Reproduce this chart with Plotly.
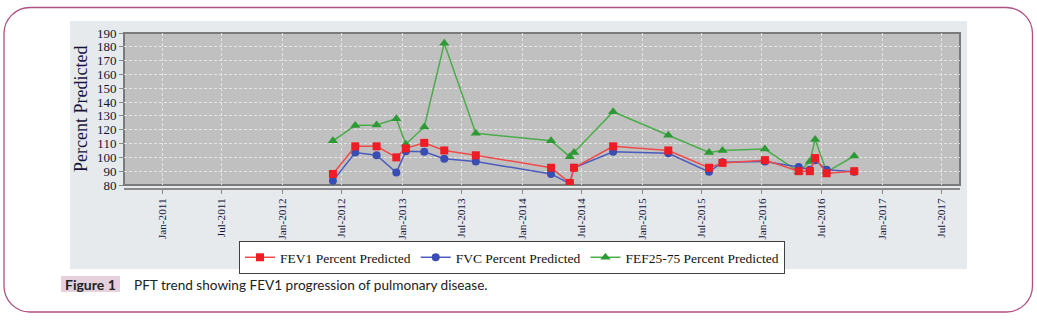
import plotly.graph_objects as go

# ---------------- data ----------------
dates = ["2012-06-04", "2012-08-11", "2012-10-15", "2012-12-14", "2013-01-12",
         "2013-03-09", "2013-05-09", "2013-08-13", "2014-03-30", "2014-05-26",
         "2014-06-08", "2014-10-05", "2015-03-22", "2015-07-24", "2015-09-03",
         "2016-01-10", "2016-04-22", "2016-05-26", "2016-06-11", "2016-07-16",
         "2016-10-08"]
fev1 = [88, 108, 108, 100, 106.5, 110.5, 105, 101.5, 92.5, 81.5, 92.5, 108,
        105, 92.5, 96, 98, 90, 90, 99.5, 88.5, 90]
fvc = [83, 103.5, 101.5, 89, 104.5, 104, 99, 97, 88, 81, 92.5, 104, 103,
       89.5, 96.5, 97, 93, 91, 98, 91, 89.5]
fef = [112, 123, 123.5, 128, 109.5, 122, 182.5, 117.5, 112, 100.5, 103.5, 133,
       116, 103.5, 105, 106, 89.5, 97, 113, 89.5, 101]
y_ticks = [80, 90, 100, 110, 120, 130, 140, 150, 160, 170, 180, 190]
series_names = ["FEV1 Percent Predicted", "FVC Percent Predicted", "FEF25-75 Percent Predicted"]
y_title = "Percent Predicted"
caption_label = "Figure 1"
caption_text = "PFT trend showing FEV1 progression of pulmonary disease."

# ---------------- layout geometry (pixels) ----------------
W, H = 1037, 322
L, R, T, B = 124, 77, 33, 133          # plot area incl. offset x-axis line
PW, PH = W - L - R, H - T - B


def px(x):
    return (x - L) / PW


def py(y):
    return (H - B - y) / PH


SERIF = "Liberation Serif, Times New Roman, serif"
TXT = "#141438"

fig = go.Figure()
fig.add_trace(go.Scatter(
    x=dates, y=fef, name=series_names[2], mode="lines+markers", legendrank=3,
    line=dict(color="#4aad4a", width=1.5),
    marker=dict(symbol="triangle-up", size=9, color="#2e9a35")))
fig.add_trace(go.Scatter(
    x=dates, y=fvc, name=series_names[1], mode="lines+markers", legendrank=2,
    line=dict(color="#4b5bbd", width=1.5),
    marker=dict(symbol="circle", size=8, color="#3a4db2")))
fig.add_trace(go.Scatter(
    x=dates, y=fev1, name=series_names[0], mode="lines+markers", legendrank=1,
    line=dict(color="#f04a4a", width=1.5),
    marker=dict(symbol="square", size=8, color="#ee1c25")))

# rounded outer frame path
x0, x1, y0, y1, r = 4, 1032.5, 7.5, 312, 26
k = 0.45
frame = (f"M {px(x0 + r)},{py(y0)} L {px(x1 - r)},{py(y0)} "
         f"C {px(x1 - r * k)},{py(y0)} {px(x1)},{py(y0 + r * k)} {px(x1)},{py(y0 + r)} "
         f"L {px(x1)},{py(y1 - r)} "
         f"C {px(x1)},{py(y1 - r * k)} {px(x1 - r * k)},{py(y1)} {px(x1 - r)},{py(y1)} "
         f"L {px(x0 + r)},{py(y1)} "
         f"C {px(x0 + r * k)},{py(y1)} {px(x0)},{py(y1 - r * k)} {px(x0)},{py(y1 - r)} "
         f"L {px(x0)},{py(y0 + r)} "
         f"C {px(x0)},{py(y0 + r * k)} {px(x0 + r * k)},{py(y0)} {px(x0 + r)},{py(y0)} Z")

shapes = [
    # light panel
    dict(type="rect", xref="paper", yref="paper", layer="below",
         x0=px(70), x1=px(967), y0=py(269), y1=py(21),
         fillcolor="#e6eaed", line=dict(width=0)),
    # plot area
    dict(type="rect", xref="paper", yref="paper", layer="below",
         x0=0, x1=1, y0=py(185), y1=1,
         fillcolor="#c0c0c0", line=dict(color="#7a7a7a", width=2)),
    # outer frame
    dict(type="path", xref="paper", yref="paper", layer="above",
         path=frame, line=dict(color="#b14f82", width=1.3)),
    # caption label box
    dict(type="rect", xref="paper", yref="paper", layer="above",
         x0=px(61), x1=px(120), y0=py(292), y1=py(276),
         fillcolor="#e5d0dc", line=dict(width=0)),
]

annotations = [
    dict(text=y_title, xref="paper", yref="paper", x=px(81), y=py(109),
         textangle=-90, showarrow=False, xanchor="center", yanchor="middle",
         font=dict(family=SERIF, size=18, color=TXT)),
    dict(text=f"<b>{caption_label}</b>", xref="paper", yref="paper",
         x=px(90.5), y=py(284.5), showarrow=False, xanchor="center", yanchor="middle",
         font=dict(family="Lato, Liberation Sans, sans-serif", size=14, color="#222")),
    dict(text=caption_text, xref="paper", yref="paper",
         x=px(132), y=py(285), showarrow=False, xanchor="left", yanchor="middle",
         font=dict(family="Lato, Liberation Sans, sans-serif", size=13.6, color="#222")),
]

fig.update_layout(
    width=W, height=H,
    margin=dict(l=L, r=R, t=T, b=B, autoexpand=False),
    paper_bgcolor="white", plot_bgcolor="rgba(0,0,0,0)",
    shapes=shapes, annotations=annotations,
    showlegend=True,
    legend=dict(orientation="h", x=px(512), y=py(241), xanchor="center", yanchor="top",
                bgcolor="white", bordercolor="#404040", borderwidth=1,
                font=dict(family=SERIF, size=13.5, color="#111"),
                tracegroupgap=0, itemwidth=30),
    xaxis=dict(type="date", anchor="free", position=0,
               range=["2010-09-07", "2017-08-26"],
               tick0="2011-01-01", dtick="M6", tickformat="%b-%Y", tickangle=-90,
               showgrid=True, gridcolor="#e4e4e4", griddash="3px,2px", gridwidth=1,
               showline=True, linecolor="#8a8a8a", linewidth=2,
               ticks="outside", ticklen=4, tickcolor="#8a8a8a",
               tickfont=dict(family=SERIF, size=11.2, color=TXT),
               zeroline=False, fixedrange=True),
    yaxis=dict(domain=[py(185), 1], range=[80, 190], tickvals=y_ticks,
               showgrid=True, gridcolor="#e4e4e4", griddash="3px,2px", gridwidth=1,
               showline=False, ticks="outside", ticklen=4, tickcolor="#8a8a8a",
               tickfont=dict(family=SERIF, size=13, color=TXT),
               zeroline=False, fixedrange=True),
)

fig.write_html("out.html")
